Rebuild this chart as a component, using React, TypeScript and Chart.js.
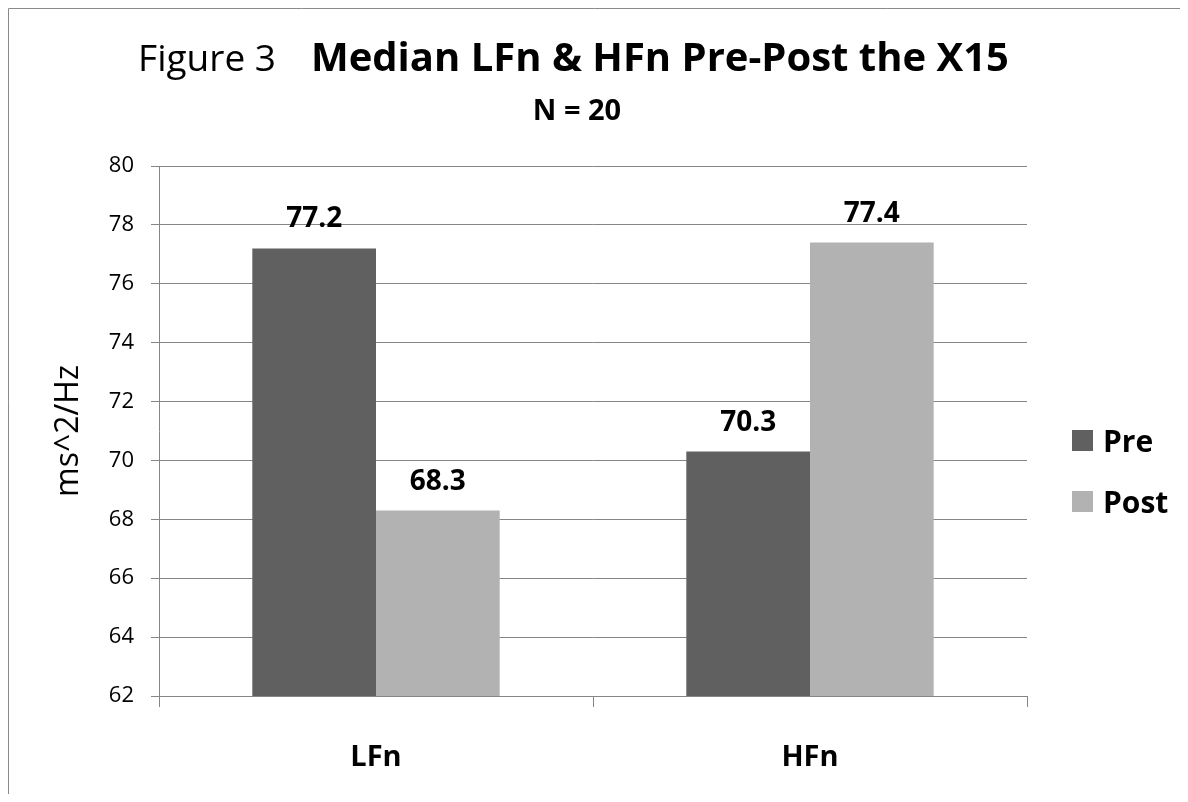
import React, { useEffect, useRef } from "react";
import { Chart, registerables } from "chart.js";

Chart.register(...registerables);

const categories = ["LFn", "HFn"];
const preValues = [77.2, 70.3];
const postValues = [68.3, 77.4];
const seriesNames = ["Pre", "Post"];
const seriesColors = ["#606060", "#b2b2b2"];
const yMin = 62;
const yMax = 80;
const yStep = 2;
const titleLight = "Figure 3";
const titleBold = "Median LFn & HFn Pre-Post the X15";
const subtitle = "N = 20";
const yAxisTitle = "ms^2/Hz";

const FONT = "'Open Sans', sans-serif";
const W = 1172;
const H = 786;

const overlayPlugin = {
  id: "overlay",
  afterDraw(chart: any) {
    const ctx = chart.ctx;
    ctx.save();
    // outer border (left & top visible)
    ctx.strokeStyle = "#8a8a8a";
    ctx.lineWidth = 1;
    ctx.beginPath();
    ctx.moveTo(0.5, H);
    ctx.lineTo(0.5, 0.5);
    ctx.lineTo(W, 0.5);
    ctx.stroke();

    // title
    ctx.fillStyle = "#000";
    ctx.textBaseline = "alphabetic";
    ctx.textAlign = "left";
    ctx.font = `400 37px ${FONT}`;
    const w1 = ctx.measureText(titleLight).width;
    ctx.font = `700 40px ${FONT}`;
    const w2 = ctx.measureText(titleBold).width;
    const gap = 35;
    const total = w1 + gap + w2;
    const cx = 565.5;
    const startX = cx - total / 2;
    ctx.font = `400 37px ${FONT}`;
    ctx.fillText(titleLight, startX, 63);
    ctx.font = `700 40px ${FONT}`;
    ctx.fillText(titleBold, startX + w1 + gap, 63);

    // subtitle
    ctx.textAlign = "center";
    ctx.font = `700 29px ${FONT}`;
    ctx.fillText(subtitle, 569, 112);

    // y axis title
    ctx.save();
    ctx.translate(70, 423);
    ctx.rotate(-Math.PI / 2);
    ctx.textAlign = "center";
    ctx.textBaseline = "alphabetic";
    ctx.font = `400 32px ${FONT}`;
    ctx.fillText(yAxisTitle, 0, 0);
    ctx.restore();

    // legend
    const legendY = [432.5, 493.5];
    seriesNames.forEach((name, i) => {
      ctx.fillStyle = seriesColors[i];
      ctx.fillRect(1064, legendY[i] - 10.5, 21, 21);
      ctx.fillStyle = "#000";
      ctx.textAlign = "left";
      ctx.textBaseline = "alphabetic";
      ctx.font = `700 30px ${FONT}`;
      ctx.fillText(name, 1095, legendY[i] + 11);
    });

    // data labels
    ctx.textAlign = "center";
    ctx.textBaseline = "alphabetic";
    ctx.font = `700 28px ${FONT}`;
    ctx.fillStyle = "#000";
    chart.data.datasets.forEach((ds: any, di: number) => {
      const meta = chart.getDatasetMeta(di);
      meta.data.forEach((el: any, i: number) => {
        ctx.fillText(String(ds.data[i].toFixed(1)), el.x, el.y - 21);
      });
    });
    ctx.restore();
  },
};

export default function App() {
  const ref = useRef<HTMLCanvasElement>(null);
  useEffect(() => {
    if (!ref.current) return;
    const chart = new Chart(ref.current, {
      type: "bar",
      data: {
        labels: categories,
        datasets: [
          {
            label: seriesNames[0],
            data: preValues,
            backgroundColor: seriesColors[0],
            categoryPercentage: 0.57,
            barPercentage: 1,
          },
          {
            label: seriesNames[1],
            data: postValues,
            backgroundColor: seriesColors[1],
            categoryPercentage: 0.57,
            barPercentage: 1,
          },
        ],
      },
      options: {
        responsive: false,
        animation: false,
        devicePixelRatio: 1,
        layout: { padding: { top: 158, right: 153, left: 0, bottom: 0 } },
        plugins: {
          legend: { display: false },
          title: { display: false },
          tooltip: { enabled: false },
        },
        scales: {
          x: {
            afterFit: (s: any) => {
              s.height = 98;
            },
            grid: {
              offset: true,
              drawOnChartArea: false,
              drawTicks: true,
              tickLength: 11,
              color: "#868686",
            },
            border: { display: true, color: "#868686" },
            ticks: {
              color: "#000",
              font: { family: FONT, size: 29, weight: "bold" },
              padding: 33,
            },
          },
          y: {
            min: yMin,
            max: yMax,
            afterFit: (s: any) => {
              s.width = 151;
            },
            grid: { color: "#868686", tickLength: 8 },
            border: { display: true, color: "#868686" },
            ticks: {
              stepSize: yStep,
              color: "#000",
              font: { family: FONT, size: 22 },
              padding: 17,
            },
          },
        },
      },
      plugins: [overlayPlugin],
    } as any);
    return () => chart.destroy();
  }, []);
  return (
    <div style={{ width: W, height: H }}>
      <canvas ref={ref} width={W} height={H} style={{ display: "block", width: W, height: H }} />
    </div>
  );
}
